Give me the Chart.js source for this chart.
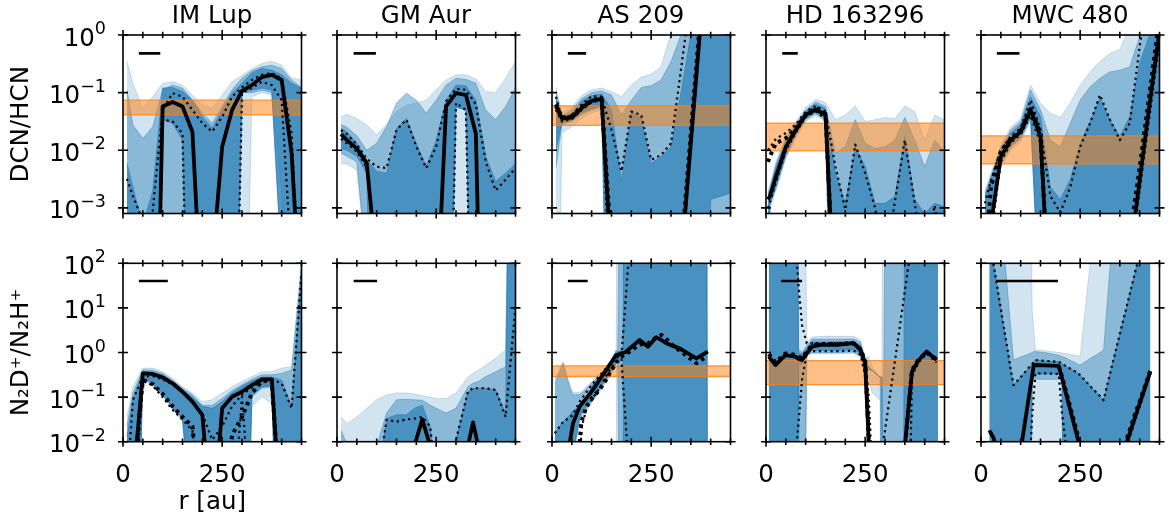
<!DOCTYPE html>
<html>
<head>
<meta charset="utf-8">
<script src="https://cdn.jsdelivr.net/npm/chart.js@4.4.1/dist/chart.umd.min.js"></script>
<style>
  html, body { margin: 0; padding: 0; background: #fff; }
  body { width: 1169px; height: 517px; position: relative; overflow: hidden; }
  canvas { position: absolute; }
</style>
</head>
<body>
<script>
// values that sit outside the plotted range
const LO = 1e-9;
const HI = 1e9;
const N = null;

const sources = ['IM Lup', 'GM Aur', 'AS 209', 'HD 163296', 'MWC 480'];
const ratioLabels = ['DCN/HCN', 'N₂D⁺/N₂H⁺'];
const yRange = [[8.0e-4, 1], [1e-2, 1e2]];
const xTickLabels = [0, 250];

// orange bands (disk averaged ratio), [low, high]
const orangeDcn = [[0.041, 0.074], null, [0.027, 0.059], [0.0098, 0.0295], [0.0058, 0.0178]];
const orangeN2d = [null, null, [0.29, 0.5], [0.19, 0.66], null];

// beam size bars, [start, end] in au
const beamDcn = [[40, 94], [42, 98], [40, 86], [41, 80], [40, 97]];
const beamN2d = [[40, 113], [42, 101], [40, 90], [38, 91], [38, 194]];
const beamY = [0.48, 40];

// ---- IM Lup DCN/HCN
const imDcnR = [10,25,50,75,100,125,150,175,200,225,250,275,300,325,350,375,400,425,450];
const imDcnH1 = [0.35,0.145,0.054,0.085,0.145,0.155,0.135,0.091,0.062,0.054,0.091,0.155,0.2,0.26,0.32,0.35,0.3,0.18,0.166];
const imDcnL1 = [LO,LO,LO,LO,LO,LO,LO,LO,LO,LO,LO,LO,LO,0.085,0.1,0.09,0.002,LO,LO];
const imDcnH2 = [0.112,0.0275,0.016,0.0257,0.112,0.135,0.12,0.074,0.044,0.0295,0.0575,0.112,0.178,0.24,0.28,0.30,0.263,0.166,0.123];
const imDcnL2 = [LO,LO,LO,LO,LO,LO,LO,LO,LO,LO,LO,LO,0.1,0.1,0.11,0.1,1e-4,LO,LO];
const imDcnH3 = [0.0059,0.0023,0.0005,0.002,0.12,0.123,0.105,0.074,0.038,0.024,0.05,0.098,0.145,0.22,0.263,0.245,0.204,0.145,0.12];
const imDcnL3 = [LO,LO,LO,LO,0.034,0.0295,0.015,LO,LO,LO,LO,LO,0.1,0.11,0.12,0.11,1e-4,LO,LO];
const imDcnMed = [LO,LO,LO,LO,0.0575,0.069,0.0575,0.021,1e-5,1e-4,0.0115,0.05,0.107,0.135,0.186,0.204,0.166,0.0089,1e-5];
const imDcnDhi = [0.0032,0.0016,0.0006,0.0009,0.05,0.098,0.085,0.05,0.0295,0.021,0.038,0.085,0.123,0.166,0.204,0.219,0.178,0.0195,1e-5];
const imDcnDlo = [LO,LO,LO,LO,0.034,0.0316,0.0195,LO,LO,LO,LO,LO,0.098,0.12,0.155,0.135,0.074,1e-4,LO];

// ---- GM Aur DCN/HCN
const gmDcnR = [10,25,50,75,100,125,150,175,200,225,250,275,300,325,350,375,400,425,450];
const gmDcnH1 = [0.038,0.042,0.0355,0.0275,0.0186,0.028,0.047,0.06,0.066,0.074,0.112,0.166,0.204,0.204,0.174,0.105,0.1,0.178,0.347];
const gmDcnL1 = [0.0059,0.0058,0.0045,1e-4,LO,LO,LO,LO,LO,LO,LO,LO,LO,LO,LO,LO,LO,LO,LO];
const gmDcnH2 = [0.028,0.025,0.0178,0.01,0.0132,0.0257,0.066,0.098,0.074,0.044,0.074,0.135,0.178,0.17,0.145,0.05,0.034,0.0575,0.12];
const gmDcnL2 = [0.0089,0.0079,0.0063,1e-4,LO,LO,LO,LO,LO,LO,LO,LO,0.056,0.05,LO,LO,LO,LO,LO];
const gmDcnH3 = [0.024,0.021,0.0132,0.0068,0.0043,0.004,0.024,0.0355,0.0132,0.0052,0.015,0.074,0.135,0.132,0.074,0.0078,0.0029,0.004,0.0059];
const gmDcnL3 = [0.0107,0.01,0.0079,0.004,LO,LO,LO,LO,LO,LO,LO,LO,0.056,0.05,LO,LO,LO,LO,LO];
const gmDcnMed = [0.019,0.015,0.0107,0.006,1e-4,LO,LO,LO,LO,LO,1e-5,0.0575,0.098,0.091,0.0195,LO,LO,LO,LO];
const gmDcnDhi = [0.0224,0.019,0.0126,0.0071,0.0052,0.0049,0.0224,0.034,0.0115,0.0049,0.0115,0.071,0.117,0.112,0.063,0.0063,0.002,0.0031,0.0049];
const gmDcnDlo = [0.0158,0.0132,0.0095,0.005,1e-4,LO,LO,LO,LO,LO,LO,LO,0.066,0.05,LO,LO,LO,LO,LO];

// ---- AS 209 DCN/HCN
const asDcnR = [10,25,50,75,100,125,150,175,200,225,250,275,300,325,350,375,400,425,450];
const asDcnH1 = [0.126,0.0447,0.0562,0.089,0.112,0.12,0.105,0.085,0.135,0.186,0.209,0.282,1.07,HI,HI,HI,HI,HI,HI];
const asDcnL1 = [LO,0.02,0.0257,0.0355,0.0447,0.05,1e-5,LO,LO,LO,LO,LO,LO,LO,LO,LO,LO,LO,LO];
const asDcnH2 = [0.1,0.04,0.05,0.079,0.1,0.107,0.091,0.041,0.074,0.123,0.132,0.166,0.347,1.0,HI,HI,HI,HI,HI];
const asDcnL2 = [0.005,0.0282,0.0316,0.0417,0.05,0.056,LO,LO,LO,LO,LO,LO,LO,LO,LO,LO,LO,LO,LO];
const asDcnH3 = [0.079,0.0355,0.0447,0.071,0.089,0.095,0.05,0.0029,0.047,0.0355,0.0059,0.0078,0.0115,0.098,1.0,HI,HI,HI,HI];
const asDcnL3 = [0.01,0.03,0.033,0.0447,0.0525,0.06,LO,LO,LO,LO,LO,LO,LO,LO,LO,LO,0.0014,0.0016,0.0018];
const asDcnMed = [0.059,0.0355,0.037,0.054,0.072,0.078,1e-4,LO,LO,LO,LO,LO,LO,1e-4,0.0135,1.66,200,HI,HI];
const asDcnAlt = [0.063,0.037,0.039,0.056,0.074,0.08,2e-4,LO,LO,LO,LO,LO,LO,1.5e-4,0.02,2.5,300,HI,HI];
const asDcnDhi = [0.085,0.0347,0.041,0.062,0.087,0.085,0.0224,0.0043,0.047,0.041,0.0068,0.0083,0.0132,0.245,5,HI,HI,HI,HI];
const asDcnDlo = [0.05,0.0316,0.0347,0.05,0.068,0.074,1e-5,LO,LO,LO,LO,LO,LO,1e-4,0.01,1.3,150,HI,HI];

// ---- HD 163296 DCN/HCN
const hdDcnR = [5,10,25,50,75,100,125,150,175,200,225,250,275,300,325,350,375,400,425,450];
const hdDcnH1 = [0.002,0.0025,0.0063,0.0178,0.0316,0.056,0.076,0.068,0.034,0.041,0.059,0.0316,0.034,0.037,0.0355,0.059,0.047,0.015,0.041,0.034];
const hdDcnL1 = [LO,0.001,0.002,0.0071,0.0158,0.0316,0.04,0.0316,LO,LO,LO,LO,LO,LO,LO,LO,LO,LO,LO,LO];
const hdDcnH2 = [0.0018,0.0022,0.0056,0.0158,0.028,0.05,0.069,0.0575,0.0089,0.0115,0.034,0.0132,0.0107,0.0115,0.015,0.037,0.015,0.0052,0.015,0.0095];
const hdDcnL2 = [LO,0.0011,0.0022,0.0079,0.0178,0.034,0.043,0.034,LO,LO,LO,LO,LO,LO,LO,LO,LO,LO,LO,LO];
const hdDcnH3 = [0.0016,0.002,0.005,0.0141,0.0263,0.047,0.063,0.0525,0.004,0.0012,0.0115,0.0052,0.0012,0.0012,0.0016,0.0174,0.0014,0.0008,0.0012,0.00105];
const hdDcnL3 = [LO,0.0012,0.0024,0.0085,0.019,0.036,0.046,0.036,LO,LO,LO,LO,LO,LO,LO,LO,LO,LO,LO,LO];
const hdDcnMed = [0.0014,0.0016,0.0035,0.0115,0.0224,0.041,0.051,0.041,1e-5,LO,LO,LO,LO,LO,LO,LO,LO,LO,LO,LO];
const hdDcnAlt = [0.0063,0.0079,0.0132,0.0162,0.024,0.041,0.054,0.043,1e-5,LO,LO,LO,LO,LO,LO,LO,LO,LO,LO,LO];
const hdDcnDhi = [0.01,0.0112,0.0158,0.02,0.028,0.047,0.059,0.047,0.0052,0.00093,0.0126,0.004,0.001,1e-4,0.0013,0.015,0.0012,1e-4,0.0011,1e-4];
const hdDcnDlo = [0.001,0.00126,0.0028,0.01,0.02,0.038,0.047,0.0355,1e-6,LO,LO,LO,LO,LO,LO,LO,LO,LO,LO,LO];

// ---- MWC 480 DCN/HCN
const mwDcnR = [10,25,50,75,100,125,150,175,200,225,250,275,300,325,350,375,400,425,450];
const mwDcnH1 = [0.002,0.004,0.0126,0.025,0.0355,0.135,0.066,0.044,0.037,0.066,0.135,0.229,0.347,0.48,0.56,1.4,HI,HI,HI];
const mwDcnL1 = [LO,6.3e-4,0.005,0.01,0.0141,0.0316,1e-5,LO,LO,LO,LO,LO,LO,LO,LO,LO,LO,LO,LO];
const mwDcnH2 = [0.0018,0.0035,0.0112,0.0224,0.0316,0.112,0.05,0.015,0.0115,0.0295,0.074,0.126,0.178,0.229,0.245,0.282,0.93,HI,HI];
const mwDcnL2 = [LO,7e-4,0.0056,0.0112,0.0158,0.0355,1e-5,LO,LO,LO,LO,LO,LO,LO,LO,LO,LO,LO,LO];
const mwDcnH3 = [0.0016,0.0032,0.01,0.02,0.028,0.085,0.038,0.0023,0.0014,0.0031,0.0132,0.0316,0.079,0.034,0.0174,0.038,0.324,1.0,HI];
const mwDcnL3 = [LO,8e-4,0.0063,0.012,0.017,0.038,1e-5,LO,LO,LO,LO,LO,LO,LO,LO,LO,LO,LO,LO];
const mwDcnMed = [LO,5e-4,0.0078,0.015,0.021,0.05,0.0174,1e-5,LO,LO,LO,LO,LO,LO,LO,1.4e-4,0.003,0.063,1.17];
const mwDcnAlt = [1e-4,0.0023,0.0095,0.0158,0.022,0.052,0.02,1e-5,LO,LO,LO,LO,LO,LO,LO,3.2e-4,0.005,0.1,2];
const mwDcnDhi = [0.0012,0.003,0.0102,0.0174,0.024,0.074,0.0224,0.0016,0.00083,0.0023,0.0115,0.0295,0.091,0.034,0.015,0.0295,0.63,10,10];
const mwDcnDlo = [1e-5,3.2e-4,0.0063,0.0135,0.019,0.04,0.0132,1e-5,LO,LO,LO,LO,LO,LO,LO,1e-4,0.002,0.04,0.8];

// ---- IM Lup N2D+/N2H+
const imN2dR = [10,25,50,75,100,125,150,175,200,225,250,275,300,325,350,375,400,425,450];
const imN2dH1 = [0.036,0.17,0.447,0.447,0.37,0.263,0.17,0.123,0.079,0.087,0.123,0.17,0.224,0.29,0.37,0.37,0.447,0.48,126];
const imN2dL1 = [LO,LO,0.24,0.178,0.105,0.052,0.028,1e-4,LO,LO,LO,LO,LO,0.062,0.102,0.072,0.002,LO,LO];
const imN2dH2 = [0.022,0.123,0.407,0.4,0.34,0.24,0.158,0.112,0.066,0.066,0.093,0.141,0.19,0.25,0.316,0.316,0.34,0.407,80];
const imN2dL2 = [LO,LO,0.263,0.19,0.112,0.056,0.0316,1e-4,LO,LO,LO,LO,LO,0.102,0.158,0.17,LO,LO,LO];
const imN2dH3 = [0.0129,0.087,0.37,0.363,0.316,0.219,0.145,0.1,0.062,0.056,0.079,0.126,0.174,0.229,0.282,0.282,0.24,0.062,60];
const imN2dL3 = [LO,LO,0.28,0.2,0.117,0.06,0.034,1e-4,LO,LO,LO,LO,LO,0.11,0.17,0.18,LO,LO,LO];
const imN2dMed = [LO,0.001,0.34,0.33,0.275,0.204,0.132,0.079,0.04,1e-4,0.056,0.102,0.132,0.186,0.25,0.25,1e-4,LO,LO];
const imN2dAlt = [LO,0.001,0.24,0.195,0.117,0.062,0.036,0.022,1e-4,1e-4,1e-4,0.0141,0.036,0.123,0.224,0.24,1e-4,LO,LO];
const imN2dDhi = [0.001,0.087,0.29,0.295,0.25,0.19,0.126,0.076,0.042,0.011,0.022,0.063,0.112,0.166,0.234,0.25,0.204,0.056,60];
const imN2dDlo = [LO,1e-4,0.25,0.178,0.1,0.052,0.0316,0.0178,1e-4,LO,LO,1e-4,0.1,1e-4,LO,LO,LO,LO,LO];

// ---- GM Aur N2D+/N2H+
const gmN2dR = [10,25,50,75,100,125,150,175,195,215,235,250,275,300,330,343,356,375,400,425,440,450];
const gmN2dH1 = [0.036,0.0257,0.036,0.056,0.087,0.112,0.123,0.123,0.117,0.107,0.1,0.093,0.093,0.123,0.282,0.34,0.4,0.525,0.74,1.15,HI,HI];
const gmN2dL1 = [LO,LO,LO,LO,LO,LO,LO,LO,LO,LO,LO,LO,LO,LO,LO,LO,LO,LO,LO,LO,LO,LO];
const gmN2dH2 = [0.018,0.0089,0.005,0.005,0.0079,0.044,0.087,0.089,0.087,0.085,0.066,0.056,0.044,0.056,0.17,0.204,0.224,0.288,0.37,0.48,HI,HI];
const gmN2dL2 = [LO,LO,LO,LO,LO,LO,LO,LO,LO,LO,LO,LO,LO,LO,LO,LO,LO,LO,LO,LO,LO,LO];
const gmN2dH3 = [0.006,0.003,LO,LO,1e-3,0.033,0.04,0.04,0.056,0.066,0.022,1e-3,1e-3,0.011,0.13,0.155,0.158,0.158,0.145,0.044,HI,HI];
const gmN2dL3 = [LO,LO,LO,LO,LO,LO,LO,LO,LO,LO,LO,LO,LO,LO,LO,LO,LO,LO,LO,LO,LO,LO];
const gmN2dMed = [LO,LO,LO,LO,LO,LO,LO,LO,0.008,0.0316,0.008,LO,LO,LO,0.008,0.027,0.008,LO,LO,LO,LO,LO];
const gmN2dDhi = [LO,LO,LO,LO,1e-3,0.031,0.028,0.0316,0.033,0.036,0.022,1e-3,1e-3,0.011,0.132,0.158,0.158,0.158,0.145,0.036,1.1,10.7];

// ---- AS 209 N2D+/N2H+
const asN2dR = [7,28,45,53,70,74,87,103,120,137,145,162,166,175,179,183,187,192,221,242,263,276,288,313,322,364,389,393];
const asN2dH1 = [0.25,0.63,0.19,0.126,0.13,0.132,0.17,0.24,0.34,0.5,0.6,1.2,HI,HI,HI,HI,HI,HI,HI,HI,HI,HI,HI,HI,HI,HI,HI,HI];
const asN2dL1 = [LO,LO,LO,0.004,0.028,0.035,0.05,0.079,0.13,0.22,0.28,0.5,LO,LO,LO,LO,LO,LO,LO,LO,LO,LO,LO,LO,LO,LO,LO,LO];
const asN2dH2 = [0.2,0.575,0.16,0.112,0.115,0.12,0.155,0.22,0.31,0.46,0.56,1.1,1.15,HI,HI,HI,HI,HI,HI,HI,HI,HI,HI,HI,HI,HI,HI,LO];
const asN2dL2 = [LO,LO,LO,0.005,0.032,0.04,0.056,0.087,0.145,0.24,0.3,0.55,0.6,LO,LO,LO,LO,LO,LO,LO,LO,LO,LO,LO,LO,LO,LO,LO];
const asN2dH3 = [0.0155,0.028,0.04,0.05,0.06,0.062,0.1,0.19,0.28,0.43,0.53,1.0,1.05,1.1,1.1,HI,HI,HI,HI,HI,HI,HI,HI,HI,HI,HI,HI,LO];
const asN2dL3 = [LO,LO,LO,0.006,0.036,0.045,0.062,0.095,0.16,0.26,0.33,0.6,0.65,0.7,0.7,LO,LO,LO,LO,LO,LO,LO,LO,LO,LO,LO,LO,LO];
const asN2dMed = [N,1e-4,0.01,0.0257,0.062,0.069,0.095,0.145,0.245,0.407,0.525,0.87,0.89,0.955,0.98,1.0,1.05,1.15,1.9,1.35,2.19,1.9,1.62,1.32,1.23,0.74,1.0,1.05];
const asN2dAlt = [N,N,N,N,0.0095,0.028,0.062,0.1,0.145,0.25,0.34,0.6,0.65,0.8,0.85,0.9,0.95,1.0,1.5,1.6,2.2,2.45,2.0,1.23,1.1,0.575,0.8,N];
const asN2dDhi = [0.0155,0.028,0.035,0.04,0.08,0.089,0.13,0.2,0.3,0.45,0.55,0.75,0.78,0.81,2.45,7.4,22,91,HI,HI,HI,HI,HI,HI,HI,HI,HI,HI];
const asN2dDlo = [N,N,N,N,0.001,0.02,0.055,0.095,0.16,0.3,0.4,0.63,0.66,0.7,0.21,0.062,0.018,0.004,LO,LO,LO,LO,LO,LO,LO,LO,LO,N];

// ---- HD 163296 N2D+/N2H+
const hdN2dR = [7,24,49,74,78,82,91,103,116,137,179,221,238,250,259,267,288,292,297,305,345,351,368,385,405,430,434];
const hdN2dH1 = [HI,HI,HI,HI,HI,HI,HI,1.58,2.2,2.3,2.3,2.3,1.9,0.79,0.79,0.5,0.26,0.26,HI,HI,HI,HI,HI,HI,HI,HI,HI];
const hdN2dL1 = [LO,LO,LO,LO,LO,LO,LO,0.85,0.93,0.93,0.93,0.95,0.79,0.3,0.25,0.126,0.085,LO,LO,LO,LO,LO,LO,LO,LO,LO,LO];
const hdN2dH2 = [HI,HI,HI,HI,HI,1.2,1.0,1.41,2.0,2.0,2.0,2.0,1.7,0.71,0.5,0.4,0.28,0.28,0.28,HI,HI,HI,HI,HI,HI,HI,HI];
const hdN2dL2 = [LO,LO,LO,LO,LO,0.5,LO,0.89,1.0,1.0,1.0,1.02,0.83,0.4,0.4,0.4,0.28,LO,LO,LO,LO,LO,LO,LO,LO,LO,LO];
const hdN2dH3 = [HI,HI,HI,HI,HI,1.0,0.9,1.3,1.74,1.74,1.74,1.78,1.45,0.63,0.45,0.4,0.28,0.28,LO,LO,LO,HI,HI,HI,HI,HI,HI];
const hdN2dL3 = [LO,LO,LO,LO,LO,0.55,0.55,1.0,1.12,1.12,1.12,1.15,0.95,0.45,0.45,0.4,0.28,0.28,LO,LO,LO,LO,LO,LO,LO,LO,LO];
const hdN2dMed = [0.81,0.525,0.87,0.81,0.76,0.72,0.68,0.95,1.35,1.48,1.48,1.62,1.15,0.575,0.01,1e-4,N,N,N,N,N,0.01,0.37,0.68,1.05,0.68,N];
const hdN2dAlt = [0.93,0.6,0.95,0.89,0.85,0.8,0.76,1.05,1.45,1.55,1.55,1.6,1.2,0.65,0.012,1e-4,N,N,N,N,N,0.009,0.4,0.72,1.0,0.7,N];
const hdN2dDhi = [HI,HI,HI,HI,100,32,4,1.6,1.6,1.62,1.62,1.66,1.26,0.63,0.1,0.0032,1e-4,1e-4,0.0115,0.036,11.5,27.5,316,HI,HI,HI,N];
const hdN2dDlo = [LO,LO,LO,LO,0.01,0.027,0.25,1.0,1.07,1.07,1.07,1.1,0.89,0.316,0.0032,LO,LO,LO,LO,LO,LO,LO,0.3,0.6,0.95,0.6,N];

// ---- MWC 480 N2D+/N2H+
const mwN2dR = [21,32,34,50,61,75,82,103,120,129,133,137,160,196,204,213,246,250,276,300,309,326,350,368,393,400,427];
const mwN2dH1 = [HI,HI,HI,HI,HI,HI,HI,HI,HI,9.3,3.3,1.15,1.1,1.0,0.98,0.95,0.83,0.81,120,HI,HI,HI,HI,HI,HI,HI,HI];
const mwN2dL1 = [LO,LO,LO,LO,LO,LO,LO,LO,LO,LO,LO,LO,LO,LO,LO,LO,LO,LO,LO,LO,LO,LO,LO,LO,LO,LO,LO];
const mwN2dH2 = [HI,HI,HI,HI,100,3.5,0.68,0.81,0.93,1.0,1.05,1.05,1.0,0.87,0.81,0.76,0.54,0.525,0.74,1.0,1.15,100,HI,HI,HI,HI,HI];
const mwN2dL2 = [LO,LO,LO,LO,LO,LO,LO,LO,LO,0.25,0.25,0.25,0.25,0.25,0.25,LO,LO,LO,LO,LO,LO,LO,LO,LO,LO,LO,LO];
const mwN2dH3 = [316,91,71,9.5,2.4,0.417,0.186,0.30,0.45,0.55,0.62,0.68,0.65,0.62,0.56,0.5,0.34,0.31,0.174,0.105,0.085,0.355,2.6,11.5,91,160,HI];
const mwN2dL3 = [LO,LO,LO,LO,LO,LO,LO,LO,LO,0.3,0.32,0.33,0.33,0.33,0.3,LO,LO,LO,LO,LO,LO,LO,LO,LO,LO,LO,LO];
const mwN2dMed = [0.018,0.012,0.01,N,N,N,N,0.0095,0.093,0.30,0.525,0.525,0.513,0.5,0.27,0.132,0.01,0.0072,N,N,N,N,0.0033,0.01,0.047,0.071,0.37];
const mwN2dAlt = [N,N,N,N,N,N,N,N,N,N,N,N,N,0.5,0.29,0.15,0.012,0.009,N,N,N,N,0.004,0.012,0.055,0.08,0.4];
const mwN2dDhi = [316,91,71,9.5,2.4,0.417,0.186,0.30,0.45,0.55,0.62,0.68,0.65,0.62,0.56,0.5,0.34,0.31,0.174,0.105,0.085,0.355,2.6,11.5,91,160,HI];
const mwN2dDlo = [N,N,N,N,N,N,N,N,0.001,0.039,0.115,0.34,0.34,0.33,0.046,0.01,N,N,N,N,N,N,0.0025,0.008,0.04,0.06,0.33];

const dcnPanels = [
  {r: imDcnR, h1: imDcnH1, l1: imDcnL1, h2: imDcnH2, l2: imDcnL2, h3: imDcnH3, l3: imDcnL3, med: imDcnMed, dhi: imDcnDhi, dlo: imDcnDlo},
  {r: gmDcnR, h1: gmDcnH1, l1: gmDcnL1, h2: gmDcnH2, l2: gmDcnL2, h3: gmDcnH3, l3: gmDcnL3, med: gmDcnMed, dhi: gmDcnDhi, dlo: gmDcnDlo},
  {r: asDcnR, h1: asDcnH1, l1: asDcnL1, h2: asDcnH2, l2: asDcnL2, h3: asDcnH3, l3: asDcnL3, med: asDcnMed, alt: asDcnAlt, dhi: asDcnDhi, dlo: asDcnDlo},
  {r: hdDcnR, h1: hdDcnH1, l1: hdDcnL1, h2: hdDcnH2, l2: hdDcnL2, h3: hdDcnH3, l3: hdDcnL3, med: hdDcnMed, alt: hdDcnAlt, dhi: hdDcnDhi, dlo: hdDcnDlo},
  {r: mwDcnR, h1: mwDcnH1, l1: mwDcnL1, h2: mwDcnH2, l2: mwDcnL2, h3: mwDcnH3, l3: mwDcnL3, med: mwDcnMed, alt: mwDcnAlt, dhi: mwDcnDhi, dlo: mwDcnDlo}
];
const n2dPanels = [
  {r: imN2dR, h1: imN2dH1, l1: imN2dL1, h2: imN2dH2, l2: imN2dL2, h3: imN2dH3, l3: imN2dL3, med: imN2dMed, alt: imN2dAlt, dhi: imN2dDhi, dlo: imN2dDlo},
  {r: gmN2dR, h1: gmN2dH1, l1: gmN2dL1, h2: gmN2dH2, l2: gmN2dL2, h3: gmN2dH3, l3: gmN2dL3, med: gmN2dMed, dhi: gmN2dDhi},
  {r: asN2dR, h1: asN2dH1, l1: asN2dL1, h2: asN2dH2, l2: asN2dL2, h3: asN2dH3, l3: asN2dL3, med: asN2dMed, alt: asN2dAlt, dhi: asN2dDhi, dlo: asN2dDlo},
  {r: hdN2dR, h1: hdN2dH1, l1: hdN2dL1, h2: hdN2dH2, l2: hdN2dL2, h3: hdN2dH3, l3: hdN2dL3, med: hdN2dMed, alt: hdN2dAlt, dhi: hdN2dDhi, dlo: hdN2dDlo},
  {r: mwN2dR, h1: mwN2dH1, l1: mwN2dL1, h2: mwN2dH2, l2: mwN2dL2, h3: mwN2dH3, l3: mwN2dL3, med: mwN2dMed, alt: mwN2dAlt, dhi: mwN2dDhi, dlo: mwN2dDlo}
];

// page geometry
const panelLeft = [123, 337, 552, 766, 981];
const PAD_L = 126, PAD_R = 125.5, CANVAS_W = 430;
const FONT = "'DejaVu Sans', sans-serif";

Chart.defaults.font.family = FONT;
Chart.defaults.font.size = 24.5;
Chart.defaults.color = '#000';
Chart.defaults.elements.point.radius = 0;

const pts = (r, v) => r.map((x, i) => ({x: x, y: v[i]}));
const isDecade = v => Math.abs(Math.log10(v) - Math.round(Math.log10(v))) < 1e-6;

// box + in/out ticks on all four sides, like the matplotlib style
const frame = {
  id: 'frame',
  afterDatasetsDraw(chart) {
    const {ctx, chartArea: a, scales: {x, y}} = chart;
    ctx.save();
    ctx.strokeStyle = '#000';
    ctx.lineWidth = 1.6;
    ctx.strokeRect(a.left, a.top, a.right - a.left, a.bottom - a.top);
    ctx.beginPath();
    x.ticks.forEach(t => {
      const px = x.getPixelForValue(t.value);
      const h = t.value % 250 === 0 ? 5 : 3.3;
      ctx.moveTo(px, a.bottom - h); ctx.lineTo(px, a.bottom + h);
      ctx.moveTo(px, a.top - h); ctx.lineTo(px, a.top + h);
    });
    y.ticks.forEach(t => {
      if (!isDecade(t.value)) return;
      const py = y.getPixelForValue(t.value);
      ctx.moveTo(a.left - 5, py); ctx.lineTo(a.left + 5, py);
      ctx.moveTo(a.right - 5, py); ctx.lineTo(a.right + 5, py);
    });
    ctx.stroke();
    ctx.restore();
  }
};

// 10^n tick labels with a raised, smaller exponent (mathtext look)
const decadeLabels = {
  id: 'decadeLabels',
  afterDraw(chart, args, opts) {
    if (!opts.show) return;
    const {ctx, chartArea: a, scales: {y}} = chart;
    ctx.save();
    ctx.fillStyle = '#000';
    ctx.textAlign = 'left';
    ctx.textBaseline = 'alphabetic';
    y.ticks.forEach(t => {
      if (!isDecade(t.value)) return;
      const py = y.getPixelForValue(t.value);
      const exp = String(Math.round(Math.log10(t.value))).replace('-', '\u2212');
      ctx.font = '24.5px ' + FONT;
      const wb = ctx.measureText('10').width;
      ctx.font = '17.5px ' + FONT;
      const we = ctx.measureText(exp).width;
      const x0 = a.left - 17 - wb - we;
      ctx.font = '24.5px ' + FONT;
      ctx.fillText('10', x0, py + 10.5);
      ctx.font = '17.5px ' + FONT;
      ctx.fillText(exp, x0 + wb, py - 1);
    });
    ctx.restore();
  }
};

function lineSet(r, v, width, dash, order) {
  return {data: pts(r, v), borderColor: '#000', borderWidth: width, borderDash: dash,
          fill: false, order: order, borderCapStyle: 'butt', borderJoinStyle: 'round'};
}

function buildDatasets(p, orange, beam, by) {
  const ds = [];
  [[p.h1, p.l1, 0.2], [p.h2, p.l2, 0.4], [p.h3, p.l3, 0.6]].forEach(([hi, lo, a]) => {
    const c = 'rgba(31,119,180,' + a + ')';
    ds.push({data: pts(p.r, hi), borderColor: c, backgroundColor: c, borderWidth: 1, fill: '+1', order: 10});
    ds.push({data: pts(p.r, lo), borderColor: c, borderWidth: 1, fill: false, order: 10});
  });
  if (orange) {
    ds.push({data: pts([0, 450], [orange[1], orange[1]]), borderColor: 'rgba(255,127,14,0.8)',
             backgroundColor: 'rgba(255,127,14,0.5)', borderWidth: 1.3, fill: '+1', order: 5});
    ds.push({data: pts([0, 450], [orange[0], orange[0]]), borderColor: 'rgba(255,127,14,0.8)',
             borderWidth: 1.3, fill: false, order: 5});
  }
  if (p.dlo) ds.push(lineSet(p.r, p.dlo, 2.2, [2.2, 3.6], 3));
  if (p.dhi) ds.push(lineSet(p.r, p.dhi, 2.2, [2.2, 3.6], 3));
  if (p.alt) ds.push(lineSet(p.r, p.alt, 4, [3.5, 4], 2));
  if (p.med) ds.push(lineSet(p.r, p.med, 3.8, [], 1));
  ds.push(lineSet(beam, [by, by], 2.6, [], 0));
  return ds;
}

[dcnPanels, n2dPanels].forEach((row, ri) => {
  row.forEach((p, ci) => {
    const h = ri === 0 ? 240 : 287;
    const cv = document.createElement('canvas');
    cv.width = CANVAS_W; cv.height = h;
    cv.style.left = (panelLeft[ci] - PAD_L) + 'px';
    cv.style.top = (ri === 0 ? 0 : 230) + 'px';
    cv.style.width = CANVAS_W + 'px'; cv.style.height = h + 'px';
    document.body.appendChild(cv);
    const orange = ri === 0 ? orangeDcn[ci] : orangeN2d[ci];
    const beam = ri === 0 ? beamDcn[ci] : beamN2d[ci];
    new Chart(cv, {
      type: 'line',
      data: {datasets: buildDatasets(p, orange, beam, beamY[ri])},
      options: {
        responsive: false, animation: false, devicePixelRatio: 1, events: [],
        layout: {padding: {left: 0, right: 0, top: ri === 0 ? 0 : 33.3, bottom: 0}},
        plugins: {
          legend: {display: false},
          tooltip: {enabled: false},
          decadeLabels: {show: ci === 0},
          title: {display: ri === 0, text: sources[ci], color: '#000',
                  font: {size: 24.5, weight: 'normal'}, padding: {top: 1.5, bottom: 4.1}}
        },
        scales: {
          x: {type: 'linear', min: 0, max: 450,
              grid: {display: false}, border: {display: false},
              ticks: {display: ri === 1, stepSize: 50, autoSkip: false, maxRotation: 0, padding: 11,
                      callback: v => xTickLabels.includes(v) ? String(v) : ''},
              title: {display: ri === 1 && ci === 0, text: 'r [au]', padding: {top: 0, bottom: 0}},
              afterFit: s => { s.height = ri === 0 ? 26.5 : 75.3; }},
          y: {type: 'logarithmic', min: yRange[ri][0], max: yRange[ri][1],
              grid: {display: false}, border: {display: false},
              ticks: {display: false, autoSkip: false},
              title: {display: ci === 0, text: ratioLabels[ri], padding: {top: 10.3, bottom: 0}},
              afterFit: s => { s.width = PAD_L; }},
          // empty right-hand box so the title centres over the plot area
          yr: {type: 'linear', position: 'right', display: true,
               grid: {display: false}, border: {display: false}, ticks: {display: false},
               afterFit: s => { s.width = PAD_R; }}
        }
      },
      plugins: [frame, decadeLabels]
    });
  });
});
</script>
</body>
</html>
